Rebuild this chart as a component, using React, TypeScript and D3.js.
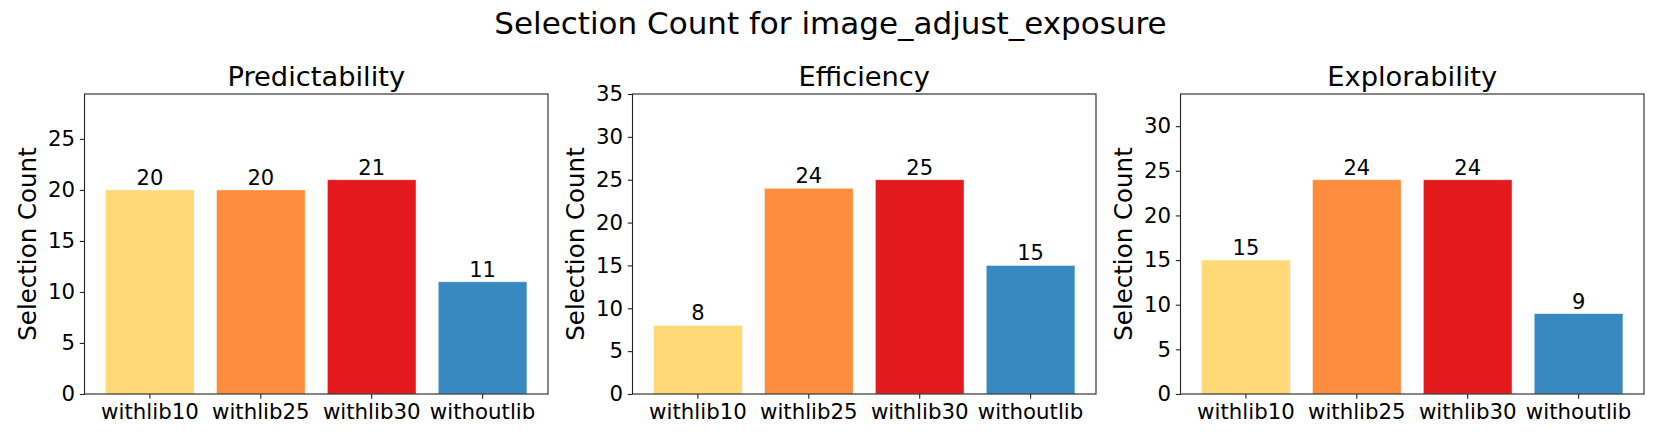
import React, { useRef, useEffect } from "react";
import * as d3 from "d3";

const categories = ["withlib10", "withlib25", "withlib30", "withoutlib"];
const panelTitles = ["Predictability", "Efficiency", "Explorability"];
const predictability = [20, 20, 21, 11];
const efficiency = [8, 24, 25, 15];
const explorability = [15, 24, 24, 9];
const barColors = ["#fed976", "#fd8d3c", "#e31a1c", "#3789c0"];
const chartTitle = "Selection Count for image_adjust_exposure";
const yLabel = "Selection Count";

const WIDTH = 1661;
const HEIGHT = 443;
const FONT = "DejaVu Sans, sans-serif";

const App = () => {
  const svgRef = useRef<SVGSVGElement>(null);

  useEffect(() => {
    const svg = d3.select(svgRef.current);
    svg.selectAll("*").remove();

    svg
      .append("rect")
      .attr("width", WIDTH)
      .attr("height", HEIGHT)
      .attr("fill", "white");

    svg
      .append("text")
      .attr("x", WIDTH / 2)
      .attr("y", 33.5)
      .attr("text-anchor", "middle")
      .attr("font-family", FONT)
      .attr("font-size", "31px")
      .attr("fill", "black")
      .text(chartTitle);

    const panels = [predictability, efficiency, explorability];
    const panelLefts = [84.5, 632.5, 1180.5];
    const panelWidth = 463.5;
    const top = 94;
    const bottom = 394;

    panels.forEach((values, p) => {
      const left = panelLefts[p];
      const right = left + panelWidth;
      const g = svg.append("g");

      const x = d3
        .scaleBand()
        .domain(categories)
        .range([left, right])
        .paddingInner(0.2)
        .paddingOuter(0.19);

      const y = d3
        .scaleLinear()
        .domain([0, d3.max(values)! * 1.4])
        .range([bottom, top]);

      // Bars
      g.selectAll(".bar")
        .data(values)
        .join("rect")
        .attr("x", (d, i) => x(categories[i])!)
        .attr("y", (d) => y(d))
        .attr("width", x.bandwidth())
        .attr("height", (d) => bottom - y(d))
        .attr("fill", (d, i) => barColors[i])
        .attr("stroke", "white")
        .attr("stroke-opacity", 0.6)
        .attr("stroke-width", 0.8);

      // Value labels
      g.selectAll(".val")
        .data(values)
        .join("text")
        .attr("x", (d, i) => x(categories[i])! + x.bandwidth() / 2)
        .attr("y", (d) => y(d) - 5)
        .attr("text-anchor", "middle")
        .attr("font-family", FONT)
        .attr("font-size", "21px")
        .attr("fill", "black")
        .text((d) => d);

      // Y axis
      const yAxis = g
        .append("g")
        .attr("transform", `translate(${left},0)`)
        .call(d3.axisLeft(y).ticks(6).tickSize(4.7).tickPadding(4.7));
      yAxis.select(".domain").remove();
      yAxis
        .selectAll("text")
        .attr("font-family", FONT)
        .attr("font-size", "21.3px")
        .attr("fill", "black");
      yAxis.selectAll("line").attr("stroke", "#222").attr("stroke-width", 1.1);

      // X axis
      const xAxis = g
        .append("g")
        .attr("transform", `translate(0,${bottom})`)
        .call(d3.axisBottom(x).tickSize(4.7).tickPadding(4.7));
      xAxis.select(".domain").remove();
      xAxis
        .selectAll("text")
        .attr("font-family", FONT)
        .attr("font-size", "21.3px")
        .attr("fill", "black");
      xAxis.selectAll("line").attr("stroke", "#222").attr("stroke-width", 1.1);

      // Frame
      g.append("rect")
        .attr("x", left)
        .attr("y", top)
        .attr("width", panelWidth)
        .attr("height", bottom - top)
        .attr("fill", "none")
        .attr("stroke", "#222")
        .attr("stroke-width", 1.1);

      // Panel title
      g.append("text")
        .attr("x", (left + right) / 2)
        .attr("y", top - 8)
        .attr("text-anchor", "middle")
        .attr("font-family", FONT)
        .attr("font-size", "27.3px")
        .attr("fill", "black")
        .text(panelTitles[p]);

      // Y label
      g.append("text")
        .attr(
          "transform",
          `translate(${left - 48.5}, ${(top + bottom) / 2}) rotate(-90)`
        )
        .attr("text-anchor", "middle")
        .attr("font-family", FONT)
        .attr("font-size", "24.5px")
        .attr("fill", "black")
        .text(yLabel);
    });
  }, []);

  return (
    <svg
      ref={svgRef}
      width={WIDTH}
      height={HEIGHT}
      style={{ position: "absolute", left: 0, top: 0 }}
    />
  );
};

export default App;
